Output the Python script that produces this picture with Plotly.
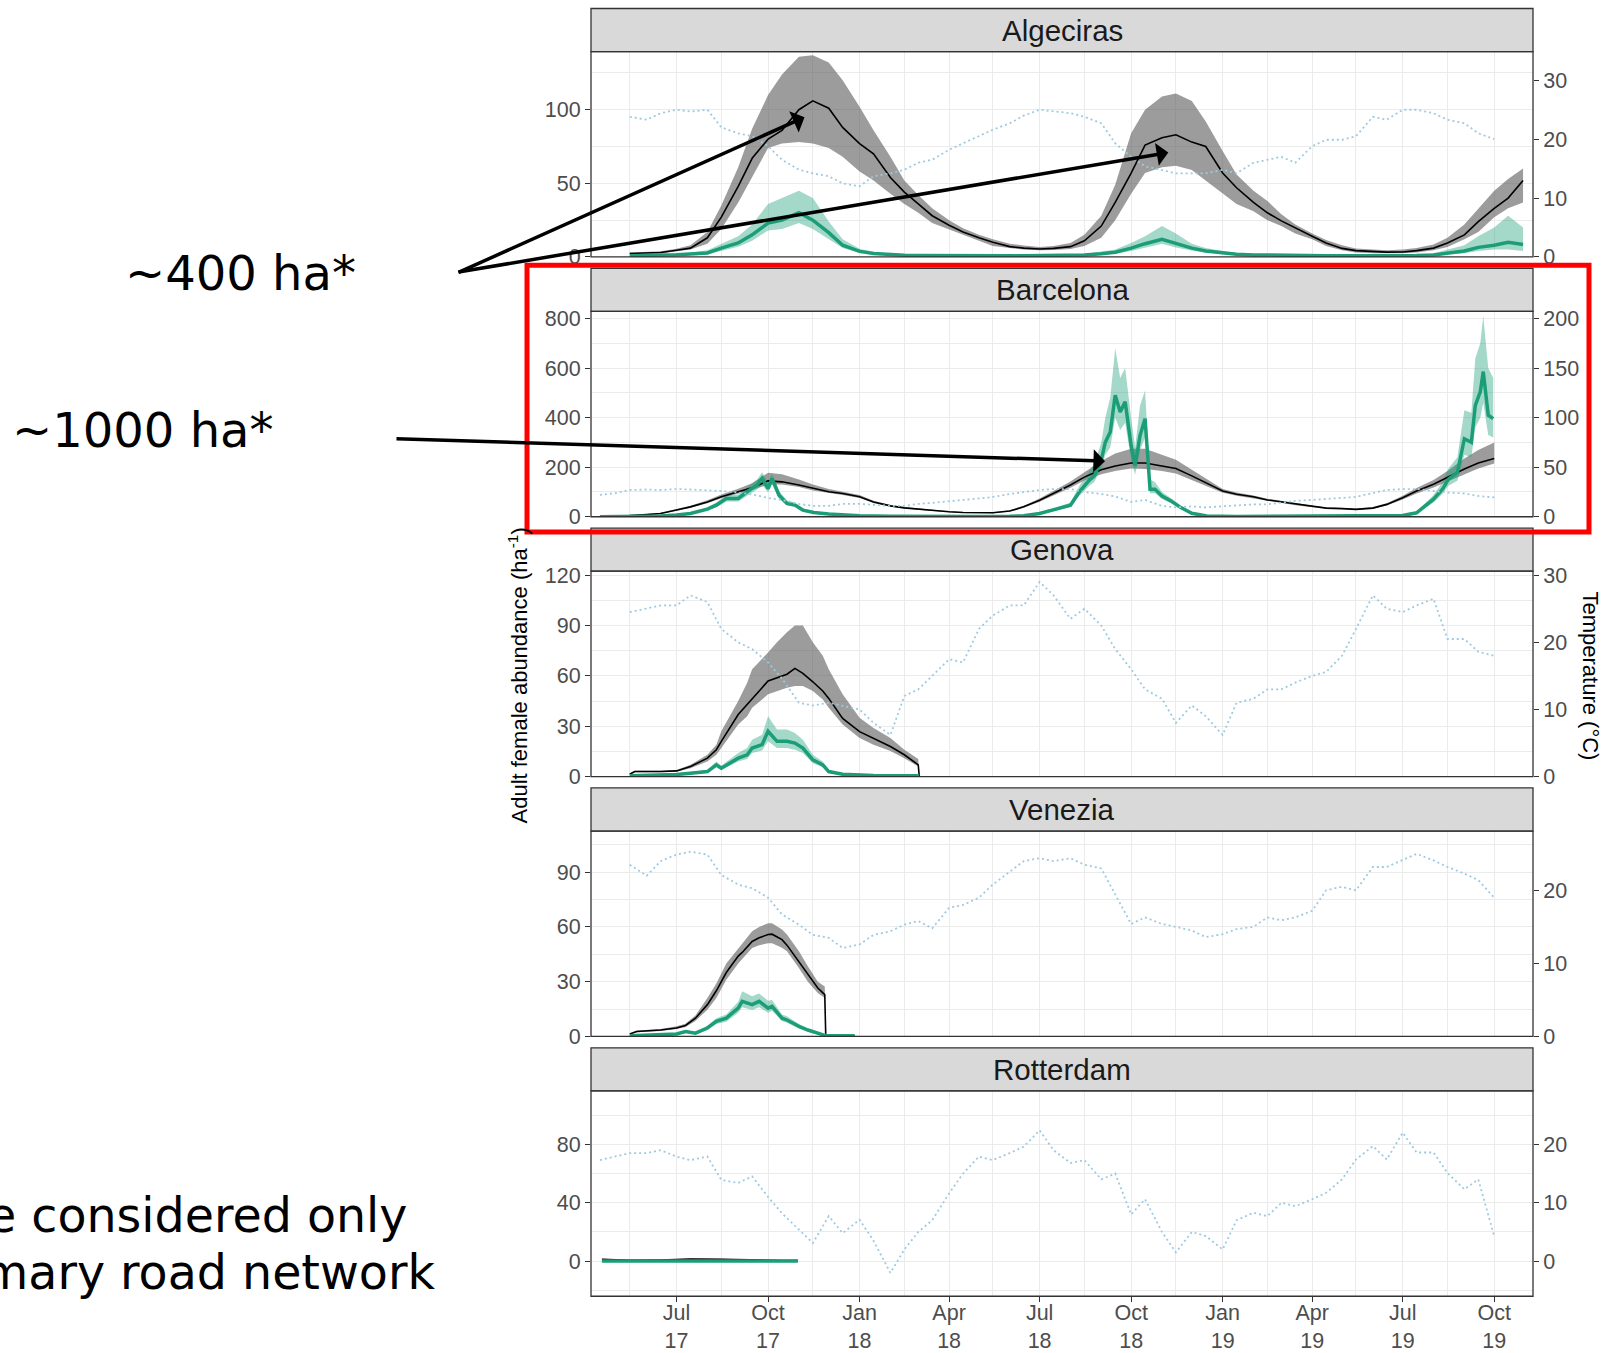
import pandas as pd
import plotly.graph_objects as go


def semimonthly(start, end):
    """Dates on the 1st and 15th of every month from start to end."""
    return [d.strftime("%Y-%m-%d") for d in pd.date_range(start, end, freq="SMS")]


# ---------------------------------------------------------------- Algeciras
alg_days = semimonthly("2017-05-15", "2019-10-15") + ["2019-10-30"]
alg_mean = [2.3, 2.5, 3.0, 4.5, 6.0, 13, 27, 48, 67, 80, 86, 100, 106, 101, 88,
            77, 70, 54, 44, 36, 28, 21.5, 17, 13, 10, 7, 6, 5.4, 5.8, 7, 11, 21, 37, 57, 76, 81, 83, 78, 75,
            57, 47, 37, 30, 24.5, 19.5, 14, 9.5, 5.8, 4.3, 3.6, 3.3, 3.4, 4.3, 6, 9.5, 15, 24, 33, 40, 52]
alg_lo = [1.8, 2.0, 2.4, 3.8, 5.0, 9, 19, 37, 54, 74, 77, 78, 77, 74, 68,
          58, 52, 43, 36, 30, 23, 18.5, 15, 11, 7.5, 6, 5, 4.5, 4.8, 5.4, 7.5, 13, 25, 43, 57, 61, 62, 59, 52,
          43, 36, 31, 25, 21, 16, 12, 7.5, 4.5, 3.0, 2.6, 2.3, 2.5, 3.0, 4.5, 6.8, 12, 17, 27, 33, 37]
alg_hi = [3.0, 3.2, 3.8, 5.5, 8, 17, 35, 61, 87, 110, 124, 136, 137, 132, 120,
          102, 86, 68, 52, 42, 33, 25, 19.5, 15, 12, 9, 7.7, 6.8, 7.5, 9.5, 15, 28, 49, 84, 100, 109, 111, 106, 92,
          72, 56, 45, 38, 29, 22, 16, 11.5, 8, 5.8, 5, 4.6, 5, 6, 8.4, 13, 22, 33, 45, 53, 60]
alg_green = [0.8, 0.9, 1.0, 1.5, 2.0, 2.7, 6, 9.5, 15, 23, 25, 30, 25, 16.5, 8,
             3.8, 2.4, 1.5, 1.2, 1.0, 0.9, 0.9, 0.9, 0.9, 0.9, 0.9, 0.9, 0.9, 0.9, 1.0, 1.3, 2.2, 3.2, 6, 9, 12, 9, 6, 4,
             2.7, 1.8, 1.4, 1.2, 1.0, 0.9, 0.8, 0.8, 0.8, 0.8, 0.8, 0.8, 0.9, 1.0, 1.4, 2.5, 4, 6.5, 8, 10, 8.5]
alg_green_lo = [0.5, 0.5, 0.6, 1.0, 1.3, 1.8, 4, 7, 11, 18, 19, 23, 19, 12, 6,
                2.8, 1.7, 1.0, 0.8, 0.7, 0.6, 0.6, 0.6, 0.6, 0.6, 0.6, 0.6, 0.6, 0.6, 0.7, 0.9, 1.5, 2.2, 4, 6.5, 9, 6.5, 4.3, 3,
                2, 1.3, 1, 0.8, 0.7, 0.6, 0.6, 0.6, 0.6, 0.6, 0.6, 0.6, 0.6, 0.7, 1, 1.5, 2.5, 4, 5, 5, 4]
alg_green_hi = [1.2, 1.3, 1.5, 2.2, 3.0, 4.5, 9, 14, 22, 36, 40, 45, 40, 24, 12,
                5.5, 3.5, 2.2, 1.8, 1.5, 1.3, 1.3, 1.3, 1.3, 1.3, 1.3, 1.3, 1.3, 1.3, 1.4, 2.0, 3.4, 5, 9.5, 14, 21, 16, 9, 6,
                4, 2.6, 2, 1.7, 1.5, 1.3, 1.1, 1.1, 1.1, 1.1, 1.1, 1.1, 1.3, 1.5, 2.5, 5, 8, 14, 20, 28, 20]
alg_temp_days = semimonthly("2017-05-15", "2019-10-01")
alg_temp = [23.8, 23.3, 24.4, 25, 24.7, 25, 22, 21, 20.5, 18.8, 16.5, 14.8, 14.2, 13.7, 12.5,
            12, 13.7, 14.2, 14.8, 16, 16.5, 18.2, 19.3, 20.5, 21.6, 22.7, 24, 25, 24.7, 24.4, 23.8, 22.7, 19.3, 17, 15.4,
            14.8, 14.2, 14.2, 14.2,
            14.8, 14.2, 16, 16.5, 17, 16, 18.8, 19.9, 19.9, 20.5, 23.8, 23.3, 25, 25, 24.4, 23.3, 22.7, 21, 20]

# ---------------------------------------------------------------- Barcelona
bar_days = semimonthly("2017-04-15", "2019-10-01")
bar_mean = [2, 3, 5, 9, 13, 27, 40, 60, 81, 101, 117, 145, 141, 128, 114, 101, 94,
            81, 60, 44, 36, 31, 24, 20, 17, 16, 16, 23, 40, 67, 94, 128, 160, 190, 205, 217, 217, 206, 195, 165, 138,
            104, 91, 81, 68, 60, 50, 41, 35, 33, 30, 35, 50, 77, 104, 131, 159, 193, 217, 235]
bar_lo = [1, 2, 4, 7, 11, 24, 36, 55, 75, 94, 108, 130, 130, 120, 106, 95, 88,
          76, 56, 41, 33, 28, 22, 18, 15, 14, 14, 21, 36, 61, 86, 117, 146, 172, 185, 195, 193, 185, 175, 150, 125,
          97, 85, 76, 64, 56, 47, 38, 33, 31, 28, 32, 46, 70, 94, 118, 142, 172, 195, 215]
bar_hi = [3, 4, 6, 11, 16, 31, 45, 67, 90, 113, 135, 178, 172, 150, 130, 112, 102,
          88, 65, 48, 39, 34, 27, 22, 19, 18, 18, 26, 45, 74, 104, 142, 180, 225, 255, 275, 275, 250, 230, 190, 155,
          112, 98, 86, 73, 64, 54, 44, 38, 36, 33, 39, 55, 85, 116, 148, 185, 235, 270, 300]
bar_green_days = ["2017-04-15", "2017-05-15", "2017-06-15", "2017-07-01", "2017-07-15", "2017-08-01",
                  "2017-08-10", "2017-08-20", "2017-09-01", "2017-09-10", "2017-09-20", "2017-09-25",
                  "2017-10-01", "2017-10-05", "2017-10-12", "2017-10-20", "2017-10-28", "2017-11-05",
                  "2017-11-16", "2017-12-01", "2017-12-15",
                  "2018-01-01", "2018-02-01", "2018-03-01", "2018-05-01", "2018-06-01", "2018-06-15",
                  "2018-07-01", "2018-07-15", "2018-08-01", "2018-08-10", "2018-08-20", "2018-08-25",
                  "2018-09-01", "2018-09-05", "2018-09-10", "2018-09-15", "2018-09-20", "2018-09-25",
                  "2018-10-01", "2018-10-05", "2018-10-10", "2018-10-15", "2018-10-20", "2018-10-25",
                  "2018-11-01", "2018-11-10", "2018-11-20", "2018-12-01", "2018-12-16",
                  "2019-01-15", "2019-06-15", "2019-07-01", "2019-07-15", "2019-08-01", "2019-08-10",
                  "2019-08-16", "2019-08-25", "2019-09-01", "2019-09-08", "2019-09-12", "2019-09-17",
                  "2019-09-20", "2019-09-25", "2019-09-30"]
bar_green = [0.5, 1, 3, 7, 13, 31, 47, 74, 74, 101, 128, 155, 114, 155, 87, 54, 47, 27, 17, 11, 7,
             4, 2, 1, 1, 2, 4, 13, 27, 47, 101, 148, 165, 230, 300, 342, 491, 423, 464, 287, 206, 328, 396,
             111, 111, 84, 64, 37, 14, 3,
             1, 2, 5, 16, 71, 111, 152, 179, 315, 301, 450, 504, 586, 410, 396]
bar_green_lo = [0.3, 0.6, 2, 5, 10, 25, 38, 62, 62, 85, 110, 130, 98, 130, 74, 46, 40, 22, 14, 9, 5,
                3, 1.5, 0.7, 0.7, 1.5, 3, 10, 22, 39, 85, 125, 140, 195, 250, 280, 400, 350, 380, 230, 170, 270, 320,
                95, 95, 72, 55, 31, 11, 2,
                0.7, 1.4, 3.5, 12, 58, 92, 125, 145, 250, 240, 360, 400, 460, 330, 320]
bar_green_hi = [0.8, 1.5, 4, 9, 17, 38, 58, 88, 90, 120, 150, 180, 140, 175, 105, 66, 58, 33, 21, 14, 9,
                5, 2.5, 1.4, 1.4, 2.6, 5, 16, 33, 58, 125, 185, 215, 300, 400, 480, 680, 560, 600, 400, 280, 450, 510,
                150, 140, 100, 76, 44, 17, 4,
                1.4, 2.8, 7, 21, 88, 140, 195, 240, 430, 420, 640, 700, 810, 600, 560]
bar_temp_days = semimonthly("2017-04-15", "2019-10-01")
bar_temp = [22, 24, 27, 27.5, 27, 28, 27.5, 27, 26, 24.5, 22.5, 19, 17, 13, 11, 11, 13,
            13, 12, 11, 11, 13, 14, 16, 17, 18.5, 20, 23, 25, 27, 28, 28, 25, 23, 20.5, 15, 17, 11, 9.5, 10.5, 9.5,
            10.5, 11.5, 12.5, 12.5, 14, 16, 17, 18, 19, 20, 24, 27, 28, 28, 26, 24.5, 23.5, 21, 19.5]

# ---------------------------------------------------------------- Genova
gen_days = ["2017-05-15", "2017-05-20", "2017-06-15", "2017-07-01", "2017-07-15", "2017-08-01",
            "2017-08-10", "2017-08-15", "2017-09-01", "2017-09-10", "2017-09-15", "2017-09-25",
            "2017-10-01", "2017-10-10", "2017-10-20", "2017-10-28", "2017-11-05", "2017-11-15",
            "2017-11-25", "2017-12-01", "2017-12-15", "2018-01-01", "2018-01-15", "2018-02-01",
            "2018-02-15", "2018-03-01", "2018-03-02"]
gen_mean = [1.4, 3.0, 3.0, 3.4, 6, 11, 16, 21, 37, 43, 47, 53, 57, 59, 61, 64.5, 61.5, 56.5, 51, 46.6,
            34.7, 26.8, 22.8, 17.9, 13, 7, 0]
gen_lo = [1.0, 2.6, 2.6, 2.9, 5, 9, 13, 17, 31, 36, 41, 46, 49, 51, 53, 54, 54, 51, 46, 41,
          31, 23, 19, 15.3, 11, 6, 0]
gen_hi = [2.0, 3.5, 3.5, 4.0, 7, 13, 19, 27, 45, 56, 64, 70, 74, 80, 86, 90, 90, 80, 72, 64,
          49, 35, 29, 23, 16, 10.5, 0]
gen_green = [0.5, 0.6, 0.8, 1.2, 2, 3, 7, 5, 11, 13, 17, 19, 27, 21, 21, 20, 17, 10, 7, 3,
             1.4, 0.8, 0.6, 0.5, 0.5, 0.5, 0.5]
gen_green_lo = [0.3, 0.4, 0.5, 0.8, 1.4, 2.2, 5.5, 4, 9, 10.5, 14, 15.5, 21, 17, 17, 16, 14, 8, 5.5, 2.2,
                1, 0.5, 0.4, 0.3, 0.3, 0.3, 0.3]
gen_green_hi = [0.8, 0.9, 1.1, 1.6, 2.8, 4, 9, 6.5, 14, 17, 22, 25, 36, 28, 28, 26, 22, 13, 9, 4,
                2, 1.2, 0.9, 0.8, 0.8, 0.8, 0.8]
gen_temp_days = semimonthly("2017-05-15", "2019-10-01")
gen_temp = [24.5, 25, 25.5, 25.5, 27, 26, 22, 20, 19, 17, 14.6, 11, 10.6, 11, 10.6,
            10, 8, 6.2, 12, 13, 15, 17.5, 17, 22, 24, 25.5, 25.5, 29, 27, 23.5, 25, 22.5, 19, 16, 13, 11.6, 8, 10.6, 9,
            6.2, 11, 11.6, 13, 13, 14, 15, 15.6, 18, 22, 27, 25, 24.5, 25.5, 26.5, 20.5, 20.5, 18.6, 18]

# ---------------------------------------------------------------- Venezia
ven_days = ["2017-05-15", "2017-05-22", "2017-06-15", "2017-07-01", "2017-07-10", "2017-07-20",
            "2017-08-01", "2017-08-10", "2017-08-20", "2017-09-01", "2017-09-05", "2017-09-15",
            "2017-09-22", "2017-10-01", "2017-10-05", "2017-10-15", "2017-10-20", "2017-11-01",
            "2017-11-10", "2017-11-20", "2017-11-27", "2017-11-28", "2017-12-27"]
ven_mean = [1.3, 2.7, 3.5, 4.6, 6, 10, 17.4, 25, 35, 44, 46, 52, 54, 55.8, 56, 53, 50, 41, 33.8, 26.5,
            22.9, 0.5, 0.3]
ven_lo = [1.0, 2.3, 3.0, 4.0, 5.2, 8.5, 14.6, 21, 31, 40, 42, 48.4, 50, 51, 51, 48.5, 46.6, 37.5, 30, 23.8,
          21, 0.3, 0.2]
ven_hi = [1.8, 3.2, 4.0, 5.5, 7, 11.5, 21, 29, 40, 48.4, 51, 57.6, 60, 62, 62, 58.5, 55.8, 46.6, 38.4, 30,
          27.4, 0.7, 0.5]
ven_green = [0.4, 0.5, 0.8, 1.3, 2.7, 1.8, 4.6, 8.2, 10, 15.5, 19.2, 17.4, 19.2, 15.5, 16.5, 10, 9, 5.5,
             3.5, 1.5, 0.6, 0.5, 0.3]
ven_green_lo = [0.2, 0.3, 0.5, 0.9, 2, 1.3, 3.6, 6.8, 8, 13, 16, 14.5, 16, 13, 14, 8.5, 7.5, 4.5,
                2.8, 1.1, 0.4, 0.3, 0.2]
ven_green_hi = [0.6, 0.7, 1.1, 1.8, 3.5, 2.5, 5.8, 10, 12, 19, 24.7, 22, 23.5, 19.5, 20, 12, 11, 6.8,
                4.3, 2, 0.9, 0.7, 0.5]
ven_temp_days = semimonthly("2017-05-15", "2019-10-01")
ven_temp = [23.5, 22, 24, 24.9, 25.3, 24.9, 22.1, 20.8, 20.3, 19, 16.7, 15.3, 13.9, 13.5, 12.1,
            12.6, 13.9, 14.4, 15.3, 15.8, 14.8, 17.6, 18, 19, 20.8, 22.6, 24, 24.4, 24, 24.4, 23.5, 23, 19.5,
            15.4, 16.3, 15.4, 15, 14.5, 13.6,
            14, 14.7, 15, 16.3, 15.9, 16.3, 17.2, 20, 20.5, 20, 23.2, 23.2, 24.1, 25, 24.1, 23.2, 22.3, 21.4, 19]

# ---------------------------------------------------------------- Rotterdam
rot_days = ["2017-04-17", "2017-05-15", "2017-06-15", "2017-07-15", "2017-08-15", "2017-09-15",
            "2017-10-15", "2017-10-31"]
rot_mean = [1.2, 0.6, 0.8, 1.4, 1.2, 0.7, 0.5, 0.5]
rot_lo = [0.8, 0.3, 0.5, 0.9, 0.8, 0.4, 0.3, 0.3]
rot_hi = [1.6, 0.9, 1.2, 1.9, 1.6, 1.0, 0.8, 0.8]
rot_green = [0.2, 0.2, 0.2, 0.2, 0.2, 0.2, 0.2, 0.2]
rot_green_lo = [0.1, 0.1, 0.1, 0.1, 0.1, 0.1, 0.1, 0.1]
rot_green_hi = [0.4, 0.4, 0.4, 0.4, 0.4, 0.4, 0.4, 0.4]
rot_temp_days = semimonthly("2017-04-15", "2019-10-01")
rot_temp = [17.3, 17.9, 18.5, 18.5, 19, 17.9, 17.3, 17.9, 13.9, 13.4, 14.5, 11, 8.2, 5.4, 3.1, 7.7, 4.8,
            7.1, 3.5, -2, 2, 5, 7, 11.6, 15, 17.9, 17.3, 18.5, 19.6, 22.4, 19, 16.8, 17.3, 14, 15, 8, 10.6, 5, 1.5,
            5, 4.3,
            2, 7, 8.3, 7.7, 10, 9.4, 10.6, 11.7, 14, 17.4, 19.7, 17.4, 22, 18.6, 18.6, 15.1, 12.3, 14, 4.3]

panels = [
    dict(name="Algeciras", days=alg_days, mean=alg_mean, lo=alg_lo, hi=alg_hi,
         gdays=alg_days, green=alg_green, glo=alg_green_lo, ghi=alg_green_hi,
         tdays=alg_temp_days, temp=alg_temp, yrange=[0, 139.5], ydtick=50, trange=[0, 34.875], tdtick=10),
    dict(name="Barcelona", days=bar_days, mean=bar_mean, lo=bar_lo, hi=bar_hi,
         gdays=bar_green_days, green=bar_green, glo=bar_green_lo, ghi=bar_green_hi,
         tdays=bar_temp_days, temp=bar_temp, yrange=[0, 829], ydtick=200, trange=[0, 207.25], tdtick=50),
    dict(name="Genova", days=gen_days, mean=gen_mean, lo=gen_lo, hi=gen_hi,
         gdays=gen_days, green=gen_green, glo=gen_green_lo, ghi=gen_green_hi,
         tdays=gen_temp_days, temp=gen_temp, yrange=[0, 122.4], ydtick=30, trange=[0, 30.6], tdtick=10),
    dict(name="Venezia", days=ven_days, mean=ven_mean, lo=ven_lo, hi=ven_hi,
         gdays=ven_days, green=ven_green, glo=ven_green_lo, ghi=ven_green_hi,
         tdays=ven_temp_days, temp=ven_temp, yrange=[0, 112.5], ydtick=30, trange=[0, 28.125], tdtick=10),
    dict(name="Rotterdam", days=rot_days, mean=rot_mean, lo=rot_lo, hi=rot_hi,
         gdays=rot_days, green=rot_green, glo=rot_green_lo, ghi=rot_green_hi,
         tdays=rot_temp_days, temp=rot_temp, yrange=[-24.0, 116.6], ydtick=40, trange=[-6.0, 29.15], tdtick=10),
]

for p in panels:
    assert len(p["days"]) == len(p["mean"]) == len(p["lo"]) == len(p["hi"]), p["name"]
    assert len(p["gdays"]) == len(p["green"]) == len(p["glo"]) == len(p["ghi"]), p["name"]
    assert len(p["tdays"]) == len(p["temp"]), p["name"]

# ---------------------------------------------------------------- styling
W, H = 1607, 1353
X_LEFT, X_RIGHT = 591, 1533
PLOT_TOP, PLOT_H, STEP, STRIP_H = 51.2, 206.0, 260.6, 43.2
X_RANGE = ["2017-04-06", "2019-11-09"]
# vertical layout positions below are given in page pixels; this pair maps them onto the paper
Y_GAIN, Y_SHIFT = 0.9815, 6.5

SANS = "Liberation Sans, Arial, Helvetica, sans-serif"
DEJAVU = "DejaVu Sans, sans-serif"
GRID = "#EBEBEB"
FRAME = "#333333"
TICK_TXT = "#4D4D4D"
GREEN = "#1B9E77"
GREEN_BAND = "rgba(27,158,119,0.40)"
GREY_BAND = "rgba(90,90,90,0.60)"
TEMP_BLUE = "#9ECAE1"


def px(v):
    return v / W


def py(v):
    return 1 - ((v - Y_SHIFT) / Y_GAIN) / H


def band(x, lo, hi, color, xa, ya):
    return go.Scatter(x=list(x) + list(x)[::-1], y=list(hi) + list(lo)[::-1],
                      fill="toself", fillcolor=color, mode="lines", line=dict(width=0),
                      xaxis=xa, yaxis=ya, hoverinfo="skip", showlegend=False)


fig = go.Figure()
shapes, annotations = [], []
axes = {}

for k, p in enumerate(panels):
    top = PLOT_TOP + k * STEP
    bot = top + PLOT_H
    xa = "x" if k == 0 else f"x{k + 1}"
    ya = "y" if k == 0 else f"y{2 * k + 1}"
    ya2 = f"y{2 * k + 2}"
    xkey = "xaxis" if k == 0 else f"xaxis{k + 1}"
    ykey = "yaxis" if k == 0 else f"yaxis{2 * k + 1}"
    y2key = f"yaxis{2 * k + 2}"
    last = k == len(panels) - 1

    fig.add_trace(band(p["days"], p["lo"], p["hi"], GREY_BAND, xa, ya))
    fig.add_trace(band(p["gdays"], p["glo"], p["ghi"], GREEN_BAND, xa, ya))
    fig.add_trace(go.Scatter(x=p["days"], y=p["mean"], mode="lines",
                             line=dict(color="black", width=1.6), xaxis=xa, yaxis=ya, showlegend=False))
    fig.add_trace(go.Scatter(x=p["gdays"], y=p["green"], mode="lines",
                             line=dict(color=GREEN, width=3.5), xaxis=xa, yaxis=ya, showlegend=False))
    fig.add_trace(go.Scatter(x=p["tdays"], y=p["temp"], mode="lines",
                             line=dict(color=TEMP_BLUE, width=1.8, dash="2px,3px"),
                             xaxis=xa, yaxis=ya2, showlegend=False))

    xdict = dict(domain=[px(X_LEFT), px(X_RIGHT)], anchor=ya, type="date", range=X_RANGE,
                 showgrid=True, gridcolor=GRID, gridwidth=1.3, tick0="2017-01-01", dtick="M3",
                 minor=dict(tick0="2017-02-15", dtick="M3", showgrid=True, gridcolor=GRID, gridwidth=0.7),
                 showticklabels=last, ticks="outside" if last else "", ticklen=5, tickwidth=1.2,
                 tickcolor=FRAME, tickformat="%b<br>%y", ticklabelstandoff=-8,
                 tickfont=dict(family=SANS, size=21.5, color=TICK_TXT),
                 showline=False, zeroline=False, fixedrange=True)
    if k:
        xdict["matches"] = "x"
    axes[xkey] = xdict

    axes[ykey] = dict(domain=[py(bot), py(top)], anchor=xa, range=p["yrange"],
                      tick0=0, dtick=p["ydtick"], showgrid=True, gridcolor=GRID, gridwidth=1.3,
                      minor=dict(tick0=0, dtick=p["ydtick"] / 2, showgrid=True, gridcolor=GRID, gridwidth=0.7),
                      ticks="outside", ticklen=5, tickwidth=1.2, tickcolor=FRAME,
                      tickfont=dict(family=SANS, size=21.5, color=TICK_TXT),
                      zeroline=False, showline=False, fixedrange=True)
    axes[y2key] = dict(domain=[py(bot), py(top)], anchor=xa, overlaying=ya, side="right",
                       range=p["trange"], tick0=0, dtick=p["tdtick"], showgrid=False,
                       ticks="outside", ticklen=5, tickwidth=1.2, tickcolor=FRAME,
                       tickfont=dict(family=SANS, size=21.5, color=TICK_TXT),
                       zeroline=False, showline=False, fixedrange=True)

    # facet strip
    shapes.append(dict(type="rect", xref="paper", yref="paper",
                       x0=px(X_LEFT), x1=px(X_RIGHT), y0=py(top), y1=py(top - STRIP_H),
                       fillcolor="#D9D9D9", line=dict(color=FRAME, width=1.3), layer="above"))
    # panel border
    shapes.append(dict(type="rect", xref="paper", yref="paper",
                       x0=px(X_LEFT), x1=px(X_RIGHT), y0=py(bot), y1=py(top),
                       fillcolor="rgba(0,0,0,0)", line=dict(color=FRAME, width=1.3), layer="above"))
    annotations.append(dict(text=p["name"], xref="paper", yref="paper",
                            x=px((X_LEFT + X_RIGHT) / 2), y=py(top - STRIP_H / 2),
                            xanchor="center", yanchor="middle", showarrow=False,
                            font=dict(family=SANS, size=29.5, color="#1A1A1A")))

# axis titles
annotations.append(dict(text="Adult female abundance (ha<sup>-1</sup>)", xref="paper", yref="paper",
                        x=px(518), y=py(677), textangle=-90, xanchor="center", yanchor="middle",
                        showarrow=False, font=dict(family=SANS, size=22, color="black")))
annotations.append(dict(text="Temperature (°C)", xref="paper", yref="paper",
                        x=px(1591), y=py(677), textangle=90, xanchor="center", yanchor="middle",
                        showarrow=False, font=dict(family=SANS, size=22, color="black")))

# highlight box around the Barcelona facet
shapes.append(dict(type="rect", xref="paper", yref="paper",
                   x0=px(527), x1=px(1589), y0=py(533), y1=py(265.5),
                   fillcolor="rgba(0,0,0,0)", line=dict(color="#FF0000", width=5), layer="above"))

# callout labels
annotations.append(dict(text="~400 ha*", xref="paper", yref="paper", x=px(240), y=py(273),
                        xanchor="center", yanchor="middle", showarrow=False,
                        font=dict(family=DEJAVU, size=48, color="black")))
annotations.append(dict(text="~1000 ha*", xref="paper", yref="paper", x=px(142), y=py(431),
                        xanchor="center", yanchor="middle", showarrow=False,
                        font=dict(family=DEJAVU, size=48, color="black")))
annotations.append(dict(text="e considered only", xref="paper", yref="paper", x=px(409), y=py(1219),
                        xanchor="right", yanchor="middle", showarrow=False,
                        font=dict(family=DEJAVU, size=47.5, color="black")))
annotations.append(dict(text="mary road network", xref="paper", yref="paper", x=px(437), y=py(1276),
                        xanchor="right", yanchor="middle", showarrow=False,
                        font=dict(family=DEJAVU, size=47.5, color="black")))


def arrow(tail, head):
    return dict(text="", xref="paper", yref="paper", x=px(head[0]), y=py(head[1]),
                ax=tail[0] - head[0], ay=(tail[1] - head[1]) / Y_GAIN, axref="pixel", ayref="pixel",
                showarrow=True, arrowhead=1, arrowsize=1.1, arrowwidth=3.5, arrowcolor="black",
                standoff=0, startstandoff=0)


annotations.append(arrow((457, 270), (804.5, 117)))
annotations.append(arrow((457, 270), (1168.3, 152.5)))
annotations.append(arrow((395, 440), (1105, 462)))

fig.update_layout(width=W, height=H, autosize=False,
                  margin=dict(l=0, r=0, t=0, b=0, pad=0),
                  paper_bgcolor="white", plot_bgcolor="white",
                  showlegend=False, hovermode=False,
                  font=dict(family=SANS, color="#1A1A1A"),
                  shapes=shapes, annotations=annotations, **axes)

fig.write_html("out.html")
